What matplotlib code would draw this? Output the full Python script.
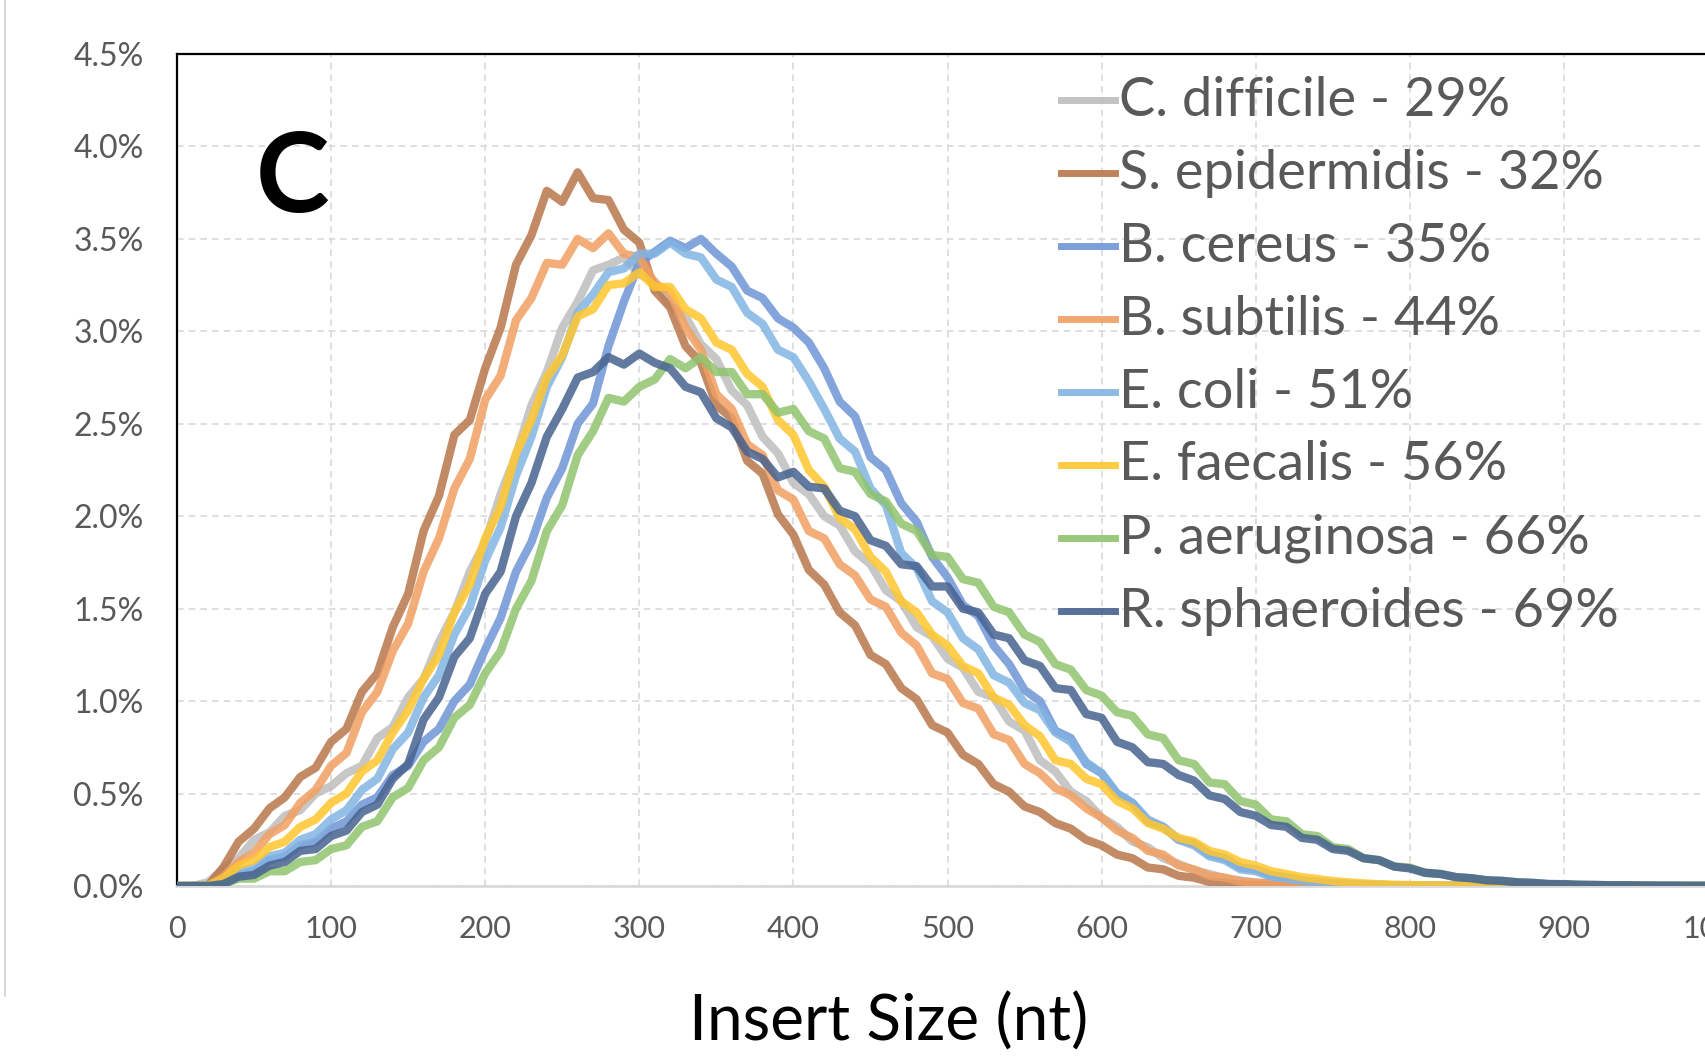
import matplotlib
matplotlib.use("Agg")
import matplotlib.pyplot as plt
from matplotlib.lines import Line2D
from matplotlib.ticker import FuncFormatter

plt.rcParams['font.family'] = ['Lato', 'DejaVu Sans']

# ---------------- data (percent of reads, every 10 nt from 0 to 1000) ----------------
insert_size = list(range(0, 1001, 10))

c_difficile = [
    0, 0, 0.02, 0.09, 0.15, 0.25, 0.29, 0.38, 0.41, 0.50,
    0.54, 0.61, 0.65, 0.80, 0.86, 1.02, 1.12, 1.32, 1.48, 1.70,
    1.86, 2.12, 2.33, 2.60, 2.78, 3.02, 3.16, 3.33, 3.36, 3.40,
    3.31, 3.27, 3.14, 3.08, 2.93, 2.85, 2.68, 2.60, 2.43, 2.34,
    2.18, 2.12, 2.00, 1.95, 1.81, 1.74, 1.60, 1.54, 1.40, 1.35,
    1.23, 1.18, 1.05, 1.02, 0.89, 0.84, 0.68, 0.62, 0.51, 0.46,
    0.37, 0.32, 0.24, 0.21, 0.15, 0.12, 0.085, 0.065, 0.042, 0.03,
    0.019, 0.014, 0.009, 0.007, 0.005, 0.004, 0.003, 0.002, 0.001, 0.001,
    0, 0, 0, 0, 0, 0, 0, 0, 0, 0,
    0, 0, 0, 0, 0, 0, 0, 0, 0, 0,
    0]

s_epidermidis = [
    0, 0, 0, 0.10, 0.24, 0.31, 0.42, 0.48, 0.59, 0.64,
    0.78, 0.85, 1.05, 1.15, 1.40, 1.58, 1.92, 2.11, 2.44, 2.52,
    2.80, 3.02, 3.36, 3.52, 3.76, 3.70, 3.86, 3.72, 3.71, 3.55,
    3.48, 3.22, 3.13, 2.92, 2.83, 2.60, 2.53, 2.30, 2.23, 2.01,
    1.90, 1.71, 1.63, 1.48, 1.41, 1.25, 1.20, 1.07, 1.01, 0.87,
    0.83, 0.71, 0.66, 0.55, 0.51, 0.43, 0.40, 0.34, 0.31, 0.25,
    0.22, 0.17, 0.15, 0.10, 0.09, 0.055, 0.045, 0.022, 0.017, 0.008,
    0.006, 0.003, 0.003, 0.002, 0.001, 0.001, 0, 0, 0, 0,
    0, 0, 0, 0, 0, 0, 0, 0, 0, 0,
    0, 0, 0, 0, 0, 0, 0, 0, 0, 0,
    0]

b_cereus = [
    0, 0, 0, 0.02, 0.06, 0.08, 0.14, 0.16, 0.22, 0.24,
    0.31, 0.35, 0.44, 0.48, 0.60, 0.65, 0.78, 0.85, 1.00, 1.09,
    1.28, 1.45, 1.70, 1.86, 2.10, 2.26, 2.50, 2.61, 2.92, 3.16,
    3.37, 3.43, 3.49, 3.45, 3.50, 3.42, 3.35, 3.22, 3.18, 3.07,
    3.02, 2.94, 2.80, 2.62, 2.54, 2.32, 2.25, 2.07, 1.97, 1.78,
    1.67, 1.52, 1.46, 1.30, 1.20, 1.06, 1.00, 0.84, 0.80, 0.66,
    0.61, 0.50, 0.45, 0.35, 0.32, 0.25, 0.23, 0.17, 0.15, 0.10,
    0.09, 0.058, 0.047, 0.032, 0.024, 0.015, 0.012, 0.007, 0.006, 0.004,
    0.003, 0.002, 0.001, 0.001, 0, 0, 0, 0, 0, 0,
    0, 0, 0, 0, 0, 0, 0, 0, 0, 0,
    0]

b_subtilis = [
    0, 0, 0, 0.05, 0.13, 0.18, 0.28, 0.33, 0.45, 0.52,
    0.65, 0.72, 0.94, 1.05, 1.27, 1.42, 1.70, 1.88, 2.15, 2.31,
    2.63, 2.76, 3.06, 3.18, 3.37, 3.36, 3.50, 3.45, 3.53, 3.42,
    3.40, 3.26, 3.21, 3.02, 2.90, 2.66, 2.58, 2.39, 2.33, 2.14,
    2.09, 1.92, 1.88, 1.74, 1.68, 1.55, 1.51, 1.37, 1.30, 1.15,
    1.12, 0.99, 0.96, 0.82, 0.79, 0.66, 0.61, 0.53, 0.49, 0.42,
    0.37, 0.30, 0.26, 0.19, 0.17, 0.11, 0.09, 0.055, 0.045, 0.025,
    0.018, 0.013, 0.01, 0.007, 0.005, 0.004, 0.003, 0.002, 0.001, 0.001,
    0, 0, 0, 0, 0, 0, 0, 0, 0, 0,
    0, 0, 0, 0, 0, 0, 0, 0, 0, 0,
    0]

e_coli = [
    0, 0, 0, 0.03, 0.08, 0.10, 0.16, 0.18, 0.25, 0.28,
    0.36, 0.41, 0.52, 0.58, 0.74, 0.83, 1.02, 1.14, 1.36, 1.51,
    1.76, 1.94, 2.22, 2.43, 2.70, 2.86, 3.10, 3.20, 3.32, 3.34,
    3.42, 3.42, 3.48, 3.42, 3.40, 3.28, 3.24, 3.10, 3.04, 2.90,
    2.86, 2.73, 2.58, 2.42, 2.35, 2.15, 2.06, 1.80, 1.72, 1.54,
    1.48, 1.34, 1.28, 1.14, 1.10, 0.99, 0.95, 0.83, 0.78, 0.67,
    0.61, 0.50, 0.45, 0.36, 0.32, 0.25, 0.22, 0.16, 0.14, 0.09,
    0.08, 0.05, 0.04, 0.028, 0.02, 0.014, 0.01, 0.007, 0.005, 0.004,
    0.003, 0.002, 0.001, 0.001, 0, 0, 0, 0, 0, 0,
    0, 0, 0, 0, 0, 0, 0, 0, 0, 0,
    0]

e_faecalis = [
    0, 0, 0, 0.04, 0.11, 0.14, 0.21, 0.24, 0.32, 0.36,
    0.45, 0.50, 0.62, 0.68, 0.83, 0.95, 1.12, 1.25, 1.48, 1.63,
    1.88, 2.05, 2.34, 2.52, 2.75, 2.87, 3.08, 3.12, 3.25, 3.26,
    3.32, 3.24, 3.24, 3.12, 3.07, 2.94, 2.90, 2.77, 2.70, 2.52,
    2.44, 2.25, 2.16, 1.99, 1.93, 1.78, 1.70, 1.54, 1.48, 1.36,
    1.30, 1.19, 1.15, 1.02, 0.98, 0.87, 0.81, 0.68, 0.66, 0.58,
    0.55, 0.46, 0.42, 0.34, 0.31, 0.26, 0.24, 0.19, 0.17, 0.13,
    0.11, 0.08, 0.065, 0.048, 0.038, 0.027, 0.02, 0.014, 0.01, 0.007,
    0.005, 0.004, 0.003, 0.002, 0.002, 0.001, 0.001, 0, 0, 0,
    0, 0, 0, 0, 0, 0, 0, 0, 0, 0,
    0]

p_aeruginosa = [
    0, 0, 0, 0.01, 0.04, 0.04, 0.08, 0.08, 0.13, 0.14,
    0.20, 0.22, 0.32, 0.35, 0.48, 0.53, 0.68, 0.75, 0.91, 0.98,
    1.15, 1.27, 1.50, 1.65, 1.92, 2.06, 2.33, 2.46, 2.64, 2.62,
    2.70, 2.74, 2.85, 2.80, 2.86, 2.78, 2.78, 2.66, 2.66, 2.56,
    2.58, 2.46, 2.42, 2.26, 2.24, 2.12, 2.08, 1.96, 1.92, 1.79,
    1.78, 1.66, 1.64, 1.51, 1.48, 1.36, 1.32, 1.20, 1.17, 1.06,
    1.03, 0.94, 0.92, 0.82, 0.80, 0.68, 0.66, 0.56, 0.55, 0.46,
    0.44, 0.36, 0.35, 0.28, 0.27, 0.21, 0.20, 0.15, 0.14, 0.105,
    0.10, 0.07, 0.065, 0.048, 0.042, 0.031, 0.027, 0.019, 0.016, 0.01,
    0.009, 0.006, 0.005, 0.004, 0.003, 0.002, 0.002, 0.001, 0.001, 0.001,
    0.001]

r_sphaeroides = [
    0, 0, 0, 0.01, 0.05, 0.06, 0.11, 0.13, 0.19, 0.20,
    0.27, 0.30, 0.40, 0.44, 0.58, 0.66, 0.90, 1.02, 1.24, 1.34,
    1.58, 1.70, 2.00, 2.18, 2.43, 2.58, 2.75, 2.78, 2.86, 2.82,
    2.88, 2.83, 2.80, 2.70, 2.67, 2.53, 2.48, 2.35, 2.31, 2.21,
    2.24, 2.16, 2.15, 2.03, 2.00, 1.87, 1.84, 1.74, 1.73, 1.62,
    1.62, 1.50, 1.48, 1.36, 1.34, 1.22, 1.19, 1.07, 1.06, 0.93,
    0.91, 0.78, 0.75, 0.67, 0.66, 0.60, 0.57, 0.49, 0.47, 0.40,
    0.38, 0.33, 0.32, 0.26, 0.25, 0.20, 0.19, 0.15, 0.14, 0.105,
    0.095, 0.072, 0.065, 0.048, 0.042, 0.031, 0.028, 0.02, 0.017, 0.011,
    0.01, 0.007, 0.006, 0.004, 0.004, 0.003, 0.002, 0.002, 0.001, 0.001,
    0.001]

series_labels = ["C. difficile - 29%", "S. epidermidis - 32%", "B. cereus - 35%",
                 "B. subtilis - 44%", "E. coli - 51%", "E. faecalis - 56%",
                 "P. aeruginosa - 66%", "R. sphaeroides - 69%"]
series_values = [c_difficile, s_epidermidis, b_cereus, b_subtilis,
                 e_coli, e_faecalis, p_aeruginosa, r_sphaeroides]
series_colors = ["#BDBDBD", "#B8774A", "#6F95D6", "#F19F62",
                 "#82B4E3", "#FFC62E", "#8FC36E", "#47628F"]

y_ticks = [0.0, 0.5, 1.0, 1.5, 2.0, 2.5, 3.0, 3.5, 4.0, 4.5]
x_ticks = list(range(0, 1001, 100))

# ---------------- figure ----------------
W, H = 1706, 1057
fig = plt.figure(figsize=(W / 100, H / 100), dpi=100)
ax = fig.add_axes([177 / W, 1 - 886 / H, (1718 - 177) / W, (886 - 54) / H])

for lab, vals, col in zip(series_labels, series_values, series_colors):
    ax.plot(insert_size, vals, color=col, lw=6.0, alpha=0.85,
            solid_joinstyle='round', solid_capstyle='round', zorder=3)

ax.set_xlim(0, 1000)
ax.set_ylim(0, 4.5)
ax.set_xticks(x_ticks)
ax.set_yticks(y_ticks)
ax.yaxis.set_major_formatter(FuncFormatter(lambda v, p: f"{v:.1f}%"))
ax.grid(True, color="#D9D9D9", linestyle=(0, (4, 3)), lw=1.2)
ax.set_axisbelow(True)
ax.tick_params(axis='both', length=0, labelcolor="#595959")
ax.tick_params(axis='x', pad=21, labelsize=22)
ax.tick_params(axis='y', pad=24, labelsize=23)

for s in ("top", "left"):
    ax.spines[s].set_color("black")
    ax.spines[s].set_linewidth(1.6)
ax.spines["bottom"].set_color("#D9D9D9")
ax.spines["bottom"].set_linewidth(2)
ax.spines["right"].set_visible(False)

# panel letter
fig.text(293 / W, 1 - 180 / H, "C", fontsize=80, fontweight='bold',
         ha='center', va='center', color='black')

# axis title
fig.text(889 / W, 1 - 1041 / H, "Insert Size (nt)", fontsize=46,
         ha='center', va='baseline', color='black')

# legend (drawn in figure pixels)
for i, (lab, col) in enumerate(zip(series_labels, series_colors)):
    yc = 100 + 73 * i
    fig.add_artist(Line2D([1061 / W, 1115 / W], [1 - yc / H, 1 - yc / H],
                          color=col, lw=5, alpha=0.9, transform=fig.transFigure))
    fig.text(1119 / W, 1 - yc / H, lab, fontsize=39, color="#595959",
             ha='left', va='center')

# faint panel border at far left
fig.add_artist(Line2D([5 / W, 5 / W], [1 - 996 / H, 1.0], color="#D0D0D0",
                      lw=1.2, transform=fig.transFigure))

fig.savefig("out.png", dpi=100)
